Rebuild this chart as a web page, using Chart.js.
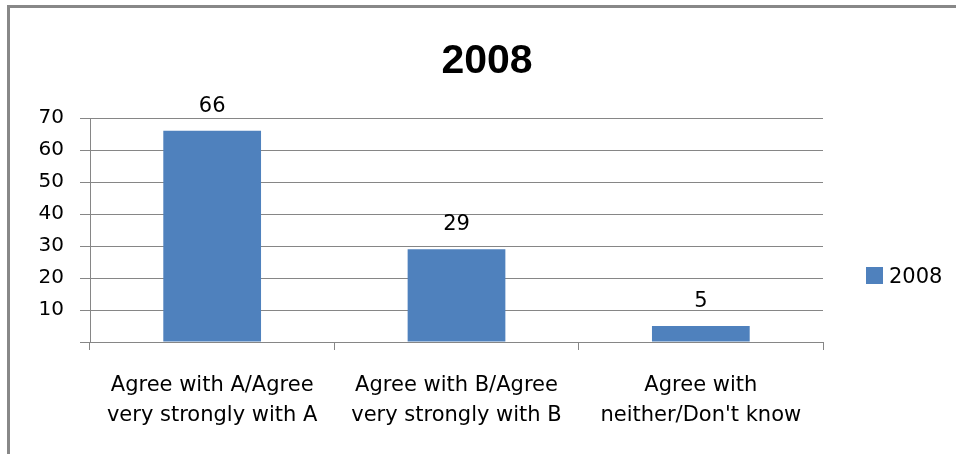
<!DOCTYPE html>
<html><head><meta charset="utf-8">
<script src="https://cdn.jsdelivr.net/npm/chart.js@4"></script>
<style>html,body{margin:0;padding:0;background:#fff;overflow:hidden}#wrap{width:956px;height:454px;position:relative}</style>
</head><body><div id="wrap"><canvas id="c" width="956" height="454"></canvas></div>
<script>
const categories = [
  ["Agree with A/Agree", "very strongly with A"],
  ["Agree with B/Agree", "very strongly with B"],
  ["Agree with", "neither/Don't know"]
];
const seriesName = "2008";
const values = [66, 29, 5];
const yTicks = [0, 10, 20, 30, 40, 50, 60, 70];
const titleText = "2008";

const GRID = '#868686';
const BAR = '#4F81BD';
const FONT = 'DejaVu Sans';

const decor = {
  id: 'decor',
  beforeDraw(chart) {
    const ctx = chart.ctx;
    ctx.save();
    ctx.fillStyle = '#fff';
    ctx.fillRect(0, 0, chart.width, chart.height);
    ctx.fillStyle = '#888888';
    ctx.fillRect(7, 5, chart.width - 7, 3);
    ctx.fillRect(7, 5, 3, chart.height - 5);
    ctx.restore();
  },
  afterDatasetsDraw(chart) {
    const ctx = chart.ctx;
    ctx.save();
    // data labels
    ctx.fillStyle = '#000';
    ctx.font = '21px "' + FONT + '"';
    ctx.textAlign = 'center';
    ctx.textBaseline = 'alphabetic';
    const meta = chart.getDatasetMeta(0);
    meta.data.forEach((bar, i) => {
      ctx.fillText(String(chart.data.datasets[0].data[i]), bar.x, bar.y - 19);
    });
    // title
    ctx.font = 'bold 41px "Liberation Sans"';
    ctx.fillText(titleText, 487, 73);
    // legend
    const ds = chart.data.datasets[0];
    ctx.fillStyle = ds.backgroundColor;
    ctx.fillRect(866, 267, 17, 17);
    ctx.fillStyle = '#000';
    ctx.textAlign = 'left';
    ctx.font = '21px "' + FONT + '"';
    ctx.fillText(ds.label, 889, 283);
    ctx.restore();
  }
};

new Chart(document.getElementById('c'), {
  type: 'bar',
  data: {
    labels: categories,
    datasets: [{
      label: seriesName,
      data: values,
      backgroundColor: BAR,
      borderWidth: 0,
      categoryPercentage: 1.0,
      barPercentage: 0.4
    }]
  },
  options: {
    responsive: false,
    animation: false,
    devicePixelRatio: 1,
    layout: { padding: { left: 0, top: 118, right: 133, bottom: 0 } },
    plugins: {
      legend: { display: false },
      title: { display: false },
      tooltip: { enabled: false }
    },
    scales: {
      x: {
        grid: { offset: true, drawOnChartArea: false, color: GRID, tickLength: 8, lineWidth: 1 },
        border: { color: GRID, width: 1 },
        ticks: {
          color: '#000',
          font: { family: FONT, size: 21, lineHeight: '30px' },
          padding: 21,
          maxRotation: 0,
          autoSkip: false
        },
        afterFit(scale) { scale.height = 112; }
      },
      y: {
        min: 0,
        max: 70,
        afterBuildTicks(scale) { scale.ticks = yTicks.map(v => ({ value: v })); },
        grid: { color: GRID, tickLength: 10, lineWidth: 1 },
        border: { color: GRID, width: 1 },
        ticks: {
          color: '#000',
          font: { family: FONT, size: 20 },
          padding: 16,
          callback: (v) => v === 0 ? '' : String(v)
        },
        afterFit(scale) { scale.width = 90; }
      }
    }
  },
  plugins: [decor]
});
</script>
</body></html>
